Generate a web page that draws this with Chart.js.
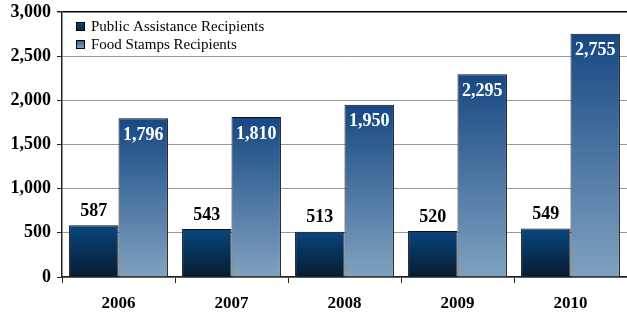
<!DOCTYPE html>
<html>
<head>
<meta charset="utf-8">
<script src="https://cdn.jsdelivr.net/npm/chart.js@4/dist/chart.umd.min.js"></script>
<style>
  html, body { margin: 0; padding: 0; background: #fff; }
  #wrap { width: 627px; height: 315px; position: relative; }
</style>
</head>
<body>
<div id="wrap"><canvas id="recipientsChart"></canvas></div>
<script>
const years = ['2006', '2007', '2008', '2009', '2010'];
const publicAssistance = [587, 543, 513, 520, 549];
const foodStamps = [1796, 1810, 1950, 2295, 2755];
const seriesNames = ['Public Assistance Recipients', 'Food Stamps Recipients'];

const serif = "'Liberation Serif', 'DejaVu Serif', serif";

// gradient per bar, from its top down to the zero line
function barGradient(top, bottom) {
    return function (ctx) {
        if (ctx.type !== 'data') return top;
        const chart = ctx.chart;
        const y = chart.scales.y;
        if (!y || !chart.chartArea) return top;
        const y0 = y.getPixelForValue(ctx.raw);
        const y1 = y.getPixelForValue(0);
        if (!isFinite(y0) || !isFinite(y1) || y0 === y1) return top;
        const g = chart.ctx.createLinearGradient(0, y0, 0, y1);
        g.addColorStop(0, top);
        g.addColorStop(1, bottom);
        return g;
    };
}

const valueLabels = {
    id: 'valueLabels',
    afterDatasetsDraw(chart) {
        const c = chart.ctx;
        c.save();
        c.font = 'bold 18px ' + serif;
        c.textAlign = 'center';
        chart.data.datasets.forEach((ds, i) => {
            chart.getDatasetMeta(i).data.forEach((bar, j) => {
                const txt = ds.data[j].toLocaleString('en-US');
                if (i === 0) {
                    c.fillStyle = '#000';
                    c.textBaseline = 'bottom';
                    c.fillText(txt, bar.x, bar.y - 5);
                } else {
                    c.fillStyle = '#fff';
                    c.textBaseline = 'middle';
                    c.fillText(txt, bar.x, bar.y + 17);
                }
            });
        });
        c.restore();
    }
};

const boxLegend = {
    id: 'boxLegend',
    afterDraw(chart) {
        const c = chart.ctx;
        const area = chart.chartArea;
        c.save();
        c.font = '15px ' + serif;
        c.textBaseline = 'middle';
        const fills = [['#08477f', '#0a2440'], ['#2a5a90', '#8eaccc']];
        chart.data.datasets.forEach((ds, i) => {
            const x = area.left + 14;
            const y = area.top + 14 + i * 18;
            const g = c.createLinearGradient(0, y - 4, 0, y + 5);
            g.addColorStop(0, fills[i][0]);
            g.addColorStop(1, fills[i][1]);
            c.fillStyle = g;
            c.fillRect(x, y - 4, 9, 9);
            c.strokeStyle = '#000';
            c.lineWidth = 1;
            c.strokeRect(x + 0.5, y - 3.5, 8, 8);
            c.fillStyle = '#000';
            c.fillText(ds.label, x + 15, y + 1);
        });
        c.restore();
    }
};

new Chart(document.getElementById('recipientsChart'), {
    type: 'bar',
    data: {
        labels: years,
        datasets: [
            {
                label: seriesNames[0],
                data: publicAssistance,
                backgroundColor: barGradient('#08467f', '#071b30'),
                borderColor: '#111',
                borderWidth: 1,
                categoryPercentage: 0.875,
                barPercentage: 1.0
            },
            {
                label: seriesNames[1],
                data: foodStamps,
                backgroundColor: barGradient('#174883', '#80a2c0'),
                borderColor: '#111',
                borderWidth: 1,
                categoryPercentage: 0.875,
                barPercentage: 1.0
            }
        ]
    },
    options: {
        responsive: true,
        maintainAspectRatio: false,
        animation: false,
        layout: { padding: { top: 12, right: 0, left: 0, bottom: 0 } },
        plugins: {
            legend: { display: false },
            tooltip: { enabled: false }
        },
        scales: {
            x: {
                afterFit(scale) {
                    scale.height = 38;
                    scale.paddingLeft = 0;
                    scale.paddingRight = 0;
                },
                grid: {
                    offset: true,
                    drawOnChartArea: false,
                    color: '#222',
                    tickLength: 6
                },
                border: { color: '#222', width: 1.5 },
                ticks: {
                    color: '#000',
                    padding: 10,
                    font: { family: serif, size: 17, weight: 'bold' }
                }
            },
            y: {
                min: 0,
                max: 3000,
                afterFit(scale) {
                    scale.width = 62;
                    scale.paddingTop = 0;
                    scale.paddingBottom = 0;
                },
                grid: {
                    color: ctx => ctx.tick && ctx.tick.value === 3000 ? '#000' : '#9a9a9a',
                    lineWidth: ctx => ctx.tick && ctx.tick.value === 3000 ? 1.5 : 1,
                    tickLength: 5,
                    tickColor: '#222'
                },
                border: { color: '#222', width: 1.5 },
                ticks: {
                    stepSize: 500,
                    color: '#000',
                    padding: 6,
                    font: { family: serif, size: 18, weight: 'bold' },
                    callback: v => v.toLocaleString('en-US')
                }
            }
        }
    },
    plugins: [valueLabels, boxLegend]
});
</script>
</body>
</html>
